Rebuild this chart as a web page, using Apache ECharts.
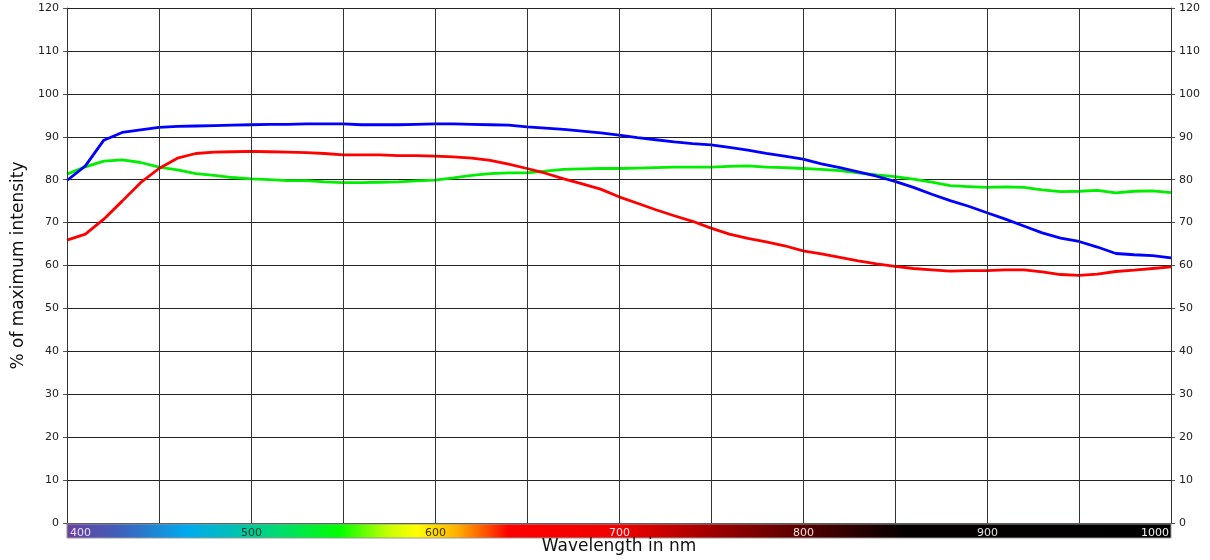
<!DOCTYPE html>
<html>
<head>
<meta charset="UTF-8">
<style>
html, body { margin: 0; padding: 0; background: #fff; }
#chart { width: 1210px; height: 560px; }
</style>
</head>
<body>
<div id="chart"></div>
<script src="https://cdn.jsdelivr.net/npm/echarts@6/dist/echarts.min.js"></script>
<script type="text/javascript">
// wavelength in nm, one sample every 10 nm
var wavelengths = [];
for (var w = 400; w <= 1000; w += 10) wavelengths.push(w);

var blueValues = [
	79.8, 83.2, 89.2, 91.0, 91.6, 92.2, 92.4, 92.5, 92.6, 92.7,
	92.8, 92.9, 92.9, 93.0, 93.0, 93.0, 92.8, 92.8, 92.8, 92.9,
	93.0, 93.0, 92.9, 92.8, 92.7, 92.3, 92.0, 91.7, 91.3, 90.9,
	90.4, 89.8, 89.3, 88.8, 88.4, 88.1, 87.5, 86.9, 86.1, 85.5,
	84.8, 83.7, 82.8, 81.8, 80.8, 79.6, 78.2, 76.6, 75.1, 73.8,
	72.3, 70.8, 69.2, 67.6, 66.4, 65.6, 64.3, 62.8, 62.5, 62.3,
	61.8
];
var greenValues = [
	81.3, 83.0, 84.3, 84.6, 84.0, 82.9, 82.3, 81.4, 81.0, 80.5,
	80.2, 80.0, 79.8, 79.8, 79.5, 79.3, 79.3, 79.4, 79.5, 79.7,
	79.9, 80.4, 81.0, 81.4, 81.6, 81.6, 82.0, 82.4, 82.5, 82.6,
	82.6, 82.7, 82.8, 82.9, 82.9, 82.9, 83.1, 83.2, 82.9, 82.8,
	82.6, 82.4, 82.1, 81.6, 81.1, 80.7, 80.1, 79.4, 78.6, 78.4,
	78.2, 78.3, 78.2, 77.6, 77.2, 77.3, 77.5, 76.9, 77.3, 77.4,
	77.0
];
var redValues = [
	65.9, 67.3, 70.8, 75.0, 79.3, 82.6, 85.0, 86.1, 86.4, 86.5,
	86.6, 86.5, 86.4, 86.3, 86.1, 85.8, 85.8, 85.8, 85.6, 85.6,
	85.5, 85.3, 85.0, 84.5, 83.6, 82.6, 81.5, 80.2, 79.0, 77.8,
	76.0, 74.5, 73.0, 71.6, 70.3, 68.7, 67.3, 66.3, 65.5, 64.6,
	63.4, 62.7, 61.9, 61.1, 60.4, 59.8, 59.3, 59.0, 58.7, 58.8,
	58.8, 59.0, 59.0, 58.5, 57.9, 57.7, 58.0, 58.6, 58.9, 59.3,
	59.7
];

// spectrum strip under the x axis
var spectrumStops = [
	[400, '#6a3fa0'], [430, '#3d62bc'], [465, '#00aaee'], [490, '#00c0b8'],
	[520, '#00e060'], [548, '#00ff00'], [575, '#c8ff00'], [590, '#ffff00'],
	[612, '#ffb000'], [628, '#ff5000'], [640, '#ff0000'], [700, '#f00000'],
	[750, '#a00000'], [800, '#560000'], [855, '#050000'], [1000, '#000000']
];
var labelColors = { 400: '#e8e0f0', 500: '#1a3a20', 600: '#3a3000', 700: '#ffe8e8', 800: '#f0e0e0', 900: '#e0e0e0', 1000: '#f0f0f0' };

function pairs(values) {
	return wavelengths.map(function (w, i) { return [w, values[i]]; });
}

var chart = echarts.init(document.getElementById('chart'));
var gridLeft = 67, gridRight = 39, gridTop = 8, gridBottom = 37;
var plotW = 1210 - gridLeft - gridRight;

var yBase = {
	type: 'value', min: 0, max: 120, interval: 10,
	axisLine: { show: true, lineStyle: { color: '#555', width: 1 } },
	axisTick: { show: true, length: 4, lineStyle: { color: '#555' } },
	axisLabel: { fontFamily: 'DejaVu Sans', fontSize: 11, color: '#222', margin: 8 }
};

var option = {
	animation: false,
	grid: { left: gridLeft, right: gridRight, top: gridTop, bottom: gridBottom, outerBoundsMode: 'none' },
	graphic: [{
		type: 'rect', z: 1,
		shape: { x: gridLeft, y: 560 - gridBottom + 1, width: plotW, height: 14 },
		style: {
			fill: new echarts.graphic.LinearGradient(0, 0, 1, 0, spectrumStops.map(function (s) {
				return { offset: (s[0] - 400) / 600, color: s[1] };
			})),
			stroke: '#999', lineWidth: 1
		}
	}],
	xAxis: {
		type: 'value', min: 400, max: 1000, interval: 50, z: 10,
		name: 'Wavelength in nm', nameLocation: 'middle', nameGap: 15, nameMoveOverlap: false,
		nameTextStyle: { fontFamily: 'DejaVu Sans', fontSize: 17, color: '#111' },
		axisLine: { show: false },
		axisTick: { show: false },
		splitLine: { show: true, lineStyle: { color: '#333', width: 1 } },
		axisLabel: {
			margin: 5, fontFamily: 'DejaVu Sans', fontSize: 11,
			alignMinLabel: 'left', alignMaxLabel: 'right',
			formatter: function (v) { return v % 100 === 0 ? String(v) : ''; },
			color: function (v) { return labelColors[v] || '#333'; },
			padding: [0, 2, 0, 3]
		}
	},
	yAxis: [
		Object.assign({}, yBase, {
			position: 'left',
			name: '% of maximum intensity', nameLocation: 'middle', nameGap: 40, nameMoveOverlap: false,
			nameTextStyle: { fontFamily: 'DejaVu Sans', fontSize: 17, color: '#111' },
			splitLine: { show: true, lineStyle: { color: '#222', width: 1 } }
		}),
		Object.assign({}, yBase, {
			position: 'right',
			splitLine: { show: false }
		})
	],
	series: [
		{ name: 'blue', type: 'line', data: pairs(blueValues), showSymbol: false, lineStyle: { color: '#0000ff', width: 2.8 }, itemStyle: { color: '#0000ff' }, z: 5 },
		{ name: 'green', type: 'line', data: pairs(greenValues), showSymbol: false, lineStyle: { color: '#00ee00', width: 2.8 }, itemStyle: { color: '#00ee00' }, z: 4 },
		{ name: 'red', type: 'line', data: pairs(redValues), showSymbol: false, lineStyle: { color: '#ff0000', width: 2.8 }, itemStyle: { color: '#ff0000' }, z: 6 }
	]
};

chart.setOption(option);
</script>
</body>
</html>
